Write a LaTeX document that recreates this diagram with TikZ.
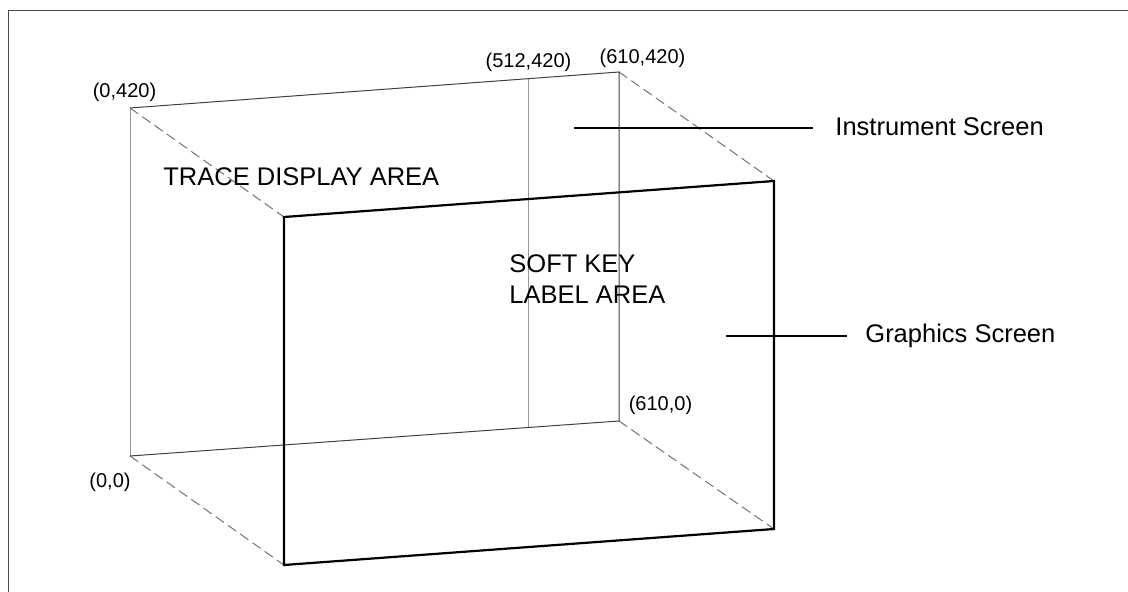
\documentclass[tikz,border=0pt]{standalone}
\usepackage{fontspec}
\setmainfont{Liberation Sans}
\begin{document}
\begin{tikzpicture}[x=0.5pt, y=-0.5pt,
		backline/.style={line width=0.5pt, draw=black!75},
		faintline/.style={line width=0.5pt, draw=black!40},
		depthline/.style={line width=0.5pt, draw=black!55, dash pattern=on 5pt off 2.5pt},
		frontline/.style={line width=1.1pt, draw=black},
		leader/.style={line width=1pt, draw=black},
		coordlabel/.style={inner sep=0pt, font=\fontsize{10}{12}\selectfont},
		arealabel/.style={inner sep=0pt, font=\fontsize{12.75}{15.5}\selectfont}]
		\useasboundingbox (0,0) rectangle (1128,592);
		\draw[line width=0.5pt, black!70] (1128,11) -- (8,11) -- (8,592);

		\coordinate (btl) at (130,108);
		\coordinate (btr) at (619,72);
		\coordinate (bbr) at (619,421);
		\coordinate (bbl) at (130,456);
		\coordinate (dtop) at (528,79);
		\coordinate (dbot) at (528,427.5);

		\coordinate (ftl) at (284,217);
		\coordinate (ftr) at (774,181);
		\coordinate (fbr) at (774,529);
		\coordinate (fbl) at (284,565);

		\foreach \c in {tl,tr,br,bl} {
			\draw[depthline] (b\c) -- (f\c);
		}

		\draw[faintline] (bbl) -- (btl);
		\draw[faintline] (dtop) -- (dbot);
		\draw[backline] (btl) -- (btr) -- (bbr) -- (bbl);

		\draw[frontline] (ftl) -- (ftr) -- (fbr) -- (fbl) -- cycle;

		\node[coordlabel] (lbtl) at (124.5,92) {(0,420)};
		\node[coordlabel] (ldtop) at (528.5,62) {(512,420)};
		\node[coordlabel] (lbtr) at (642.5,58) {(610,420)};
		\node[coordlabel] (lbbl) at (110,482) {(0,0)};
		\node[coordlabel] (lbbr) at (660.5,405) {(610,0)};

		\node[arealabel, anchor=west] (trace) at (163,177) {TRACE DISPLAY AREA};
		\node[arealabel, anchor=west, align=left] (softkey) at (509,279.5) {SOFT KEY\\LABEL AREA};
		\node[arealabel, anchor=base west] (instr) at (835,136) {Instrument Screen};
		\node[arealabel, anchor=base west] (graph) at (865,343) {Graphics Screen};

		\coordinate (instrtip) at (574,128);
		\coordinate (graphtip) at (726,336);
		\draw[leader, shorten >=11pt] (instrtip) -- (instrtip -| instr.west);
		\draw[leader, shorten >=9pt] (graphtip) -- (graphtip -| graph.west);
	\end{tikzpicture}
\end{document}
